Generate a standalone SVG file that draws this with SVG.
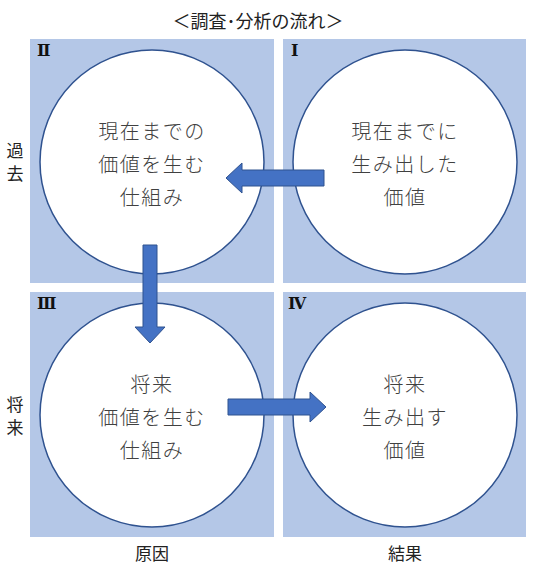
<svg xmlns="http://www.w3.org/2000/svg" width="533" height="571" viewBox="0 0 533 571">
<style>
.bg{fill:#B4C7E7}
.circ{fill:#FFFFFF;stroke:#2F528F;stroke-width:1.5}
.ct{font-family:"Noto Sans CJK JP","Noto Sans CJK SC",sans-serif;font-size:20px;font-weight:300;fill:#404040;text-anchor:middle;dominant-baseline:central;letter-spacing:1.5px}
.lab{font-family:"Noto Sans CJK JP","Noto Sans CJK SC",sans-serif;font-size:17px;fill:#222222;text-anchor:middle;dominant-baseline:central}
.side{font-family:"Noto Sans CJK JP","Noto Sans CJK SC",sans-serif;font-size:17px;fill:#222222;text-anchor:middle}
.num{font-family:"Liberation Serif","DejaVu Serif",serif;font-size:16px;font-weight:bold;fill:#111111}
.arrow{fill:#4472C4;stroke:#2F528F;stroke-width:1}
</style>
<rect width="533" height="571" fill="#FFFFFF"/>
<text class="lab" x="258" y="20" style="font-size:18px">＜調査･分析の流れ＞</text>
<g id="q2">
<rect class="bg" x="30" y="39" width="244" height="244"/>
<circle class="circ" cx="152" cy="162" r="112"/>
<text class="num" x="37" y="56">Ⅱ</text>
<text class="ct" x="152" y="130">現在までの</text>
<text class="ct" x="152" y="163">価値を生む</text>
<text class="ct" x="152" y="196">仕組み</text>
</g>
<g id="q1">
<rect class="bg" x="283" y="39" width="243" height="244"/>
<circle class="circ" cx="405" cy="162" r="112"/>
<text class="num" x="291" y="56">Ⅰ</text>
<text class="ct" x="405" y="130">現在までに</text>
<text class="ct" x="405" y="163">生み出した</text>
<text class="ct" x="405" y="196">価値</text>
</g>
<g id="q3">
<rect class="bg" x="30" y="292" width="244" height="245"/>
<circle class="circ" cx="152" cy="415" r="112"/>
<text class="num" x="37" y="309">Ⅲ</text>
<text class="ct" x="152" y="383">将来</text>
<text class="ct" x="152" y="416">価値を生む</text>
<text class="ct" x="152" y="449">仕組み</text>
</g>
<g id="q4">
<rect class="bg" x="283" y="292" width="243" height="245"/>
<circle class="circ" cx="405" cy="415" r="112"/>
<text class="num" x="288" y="309">Ⅳ</text>
<text class="ct" x="405" y="383">将来</text>
<text class="ct" x="405" y="416">生み出す</text>
<text class="ct" x="405" y="449">価値</text>
</g>
<g id="labels">
<text class="side" x="15" y="157">過</text>
<text class="side" x="15" y="180">去</text>
<text class="side" x="15" y="411">将</text>
<text class="side" x="15" y="434">来</text>
<text class="lab" x="152" y="552">原因</text>
<text class="lab" x="405" y="552">結果</text>
</g>
<g id="connectors">
<path class="arrow" d="M324,170 L242,170 L242,163 L226,178 L242,193 L242,186 L324,186 Z"/>
<path class="arrow" d="M143,245 L157,245 L157,327 L165,327 L150,343 L135,327 L143,327 Z"/>
<path class="arrow" d="M228,399 L310,399 L310,392 L326,407 L310,422 L310,415 L228,415 Z"/>
</g>
</svg>
